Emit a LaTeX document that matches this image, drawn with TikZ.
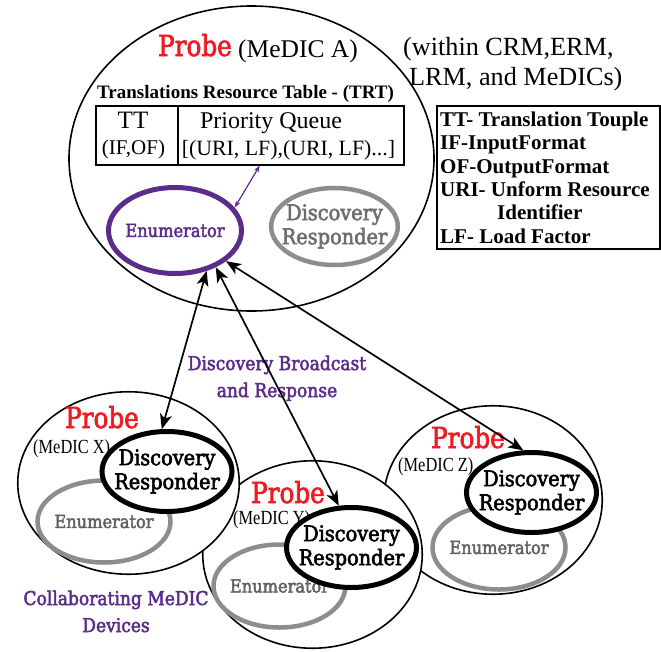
\documentclass[tikz,border=0pt]{standalone}
\usepackage{fontspec}
\setmainfont{Liberation Serif}
\newfontfamily\slab[FakeStretch=0.9, FakeBold=2.6]{DejaVu Serif}
\newfontfamily\probeface[FakeStretch=0.85, FakeBold=2.2]{DejaVu Serif}
\newfontfamily\tagface[FakeStretch=0.82]{Liberation Serif}
\usetikzlibrary{shapes.geometric,arrows.meta}

\definecolor{probered}{HTML}{ED1C24}
\definecolor{medpurple}{HTML}{5B2C8A}
\definecolor{ringgray}{HTML}{8C8D90}
\definecolor{labelgray}{HTML}{5F6062}
\definecolor{softgray}{HTML}{6D6E71}

\tikzset{
  device/.style={ellipse, draw, line width=1.6pt, fill=white, inner sep=0pt},
  responder/.style={ellipse, draw, line width=5pt, fill=white, inner xsep=-8pt, inner ysep=0pt,
    minimum width=130pt, minimum height=80pt, align=center,
    font=\slab\fontsize{21.5}{24}\selectfont},
  enumring/.style={ellipse, draw=ringgray, line width=4.5pt, inner xsep=-8pt, inner ysep=0pt,
    text=labelgray, font=\slab\fontsize{18}{20}\selectfont},
  probetag/.style={anchor=base west, inner sep=0pt, text=probered,
    font=\probeface\fontsize{29}{30}\selectfont},
  medictag/.style={anchor=base west, inner sep=0pt, font=\tagface\fontsize{20}{22}\selectfont},
  plain/.style={anchor=base west, inner sep=0pt},
  cell/.style={draw, line width=1.5pt, inner sep=0pt, anchor=north west},
  legendline/.style={anchor=base west, inner sep=0pt, font=\bfseries\fontsize{21}{22}\selectfont},
  purplelabel/.style={anchor=base, inner sep=0pt, text=medpurple, font=\slab\fontsize{19}{21}\selectfont},
  twoway/.style={{Stealth[length=15pt,width=12pt,inset=4pt]}-{Stealth[length=15pt,width=12pt,inset=4pt]},
    line width=1.7pt},
  smalltwoway/.style={{Stealth[length=7pt,width=5pt]}-{Stealth[length=7pt,width=5pt]},
    line width=1.2pt, medpurple}
}

\begin{document}
\begin{tikzpicture}[x=1pt,y=-1pt]
\useasboundingbox (0,0) rectangle (661,651);

% ---- probe of MeDIC A ----
\node[device, minimum width=365pt, minimum height=305pt] (devA) at (251.5,158.5) {};
\node[probetag] (probeA) at (158,56) {Probe};
\node[plain, font=\fontsize{25.5}{27}\selectfont] (medicA) at (238,57) {(MeDIC A)};

\node[plain, font=\bfseries\fontsize{19}{21}\selectfont] (trt) at (97,98)
  {Translations Resource Table - (TRT)};
\node[cell, minimum width=82pt, minimum height=59pt] (tt) at (95,105) {};
\node[cell, minimum width=226pt, minimum height=59pt] (pq) at (177,105) {};
\node[anchor=base, inner sep=0pt, font=\fontsize{25}{27}\selectfont] (ttname) at (133,128) {TT};
\node[anchor=base, inner sep=0pt, font=\fontsize{21}{23}\selectfont] (ttpair) at (133.5,154) {(IF,OF)};
\node[anchor=base, inner sep=0pt, font=\fontsize{24}{26}\selectfont] (pqname) at (271,128) {Priority Queue};
\node[anchor=base, inner sep=0pt, font=\fontsize{21.8}{23}\selectfont] (pqlist) at (288.5,155)
  {[(URI, LF),(URI, LF)...]};

\node[ellipse, draw=medpurple, line width=5pt, inner xsep=-8pt, inner ysep=0pt,
  minimum width=133pt, minimum height=86pt, text=medpurple,
  font=\slab\fontsize{18}{20}\selectfont] (enumA) at (175,230.5) {Enumerator};
\node[ellipse, draw=ringgray, line width=4.5pt, inner xsep=-8pt, inner ysep=0pt,
  minimum width=124pt, minimum height=77pt, align=center, text=softgray,
  font=\slab\fontsize{21.5}{24}\selectfont] (respA) at (334.5,226.5) {Discovery\\Responder};

\coordinate (pqfoot) at ([xshift=-31pt]pq.south);
\draw[smalltwoway] (enumA.21) -- (pqfoot);

% ---- scope note and legend ----
\node[plain, font=\fontsize{26.2}{28}\selectfont] (scope1) at (403,55) {(within CRM,ERM,};
\node[plain, font=\fontsize{26.2}{28}\selectfont] (scope2) at (409,85) {LRM, and MeDICs)};

\node[draw, line width=1.5pt, inner sep=0pt, minimum width=223pt, minimum height=143pt,
  anchor=north west] (legend) at (436,105) {};
\node[legendline] (lg1) at (440,126) {TT- Translation Touple};
\node[legendline] (lg2) at (440,149.5) {IF-InputFormat};
\node[legendline] (lg3) at (440,173) {OF-OutputFormat};
\node[legendline] (lg4) at (440,196) {URI- Unform Resource};
\node[legendline] (lg5) at (497,219.5) {Identifier};
\node[legendline] (lg6) at (440,243) {LF- Load Factor};

% ---- collaborating devices (back to front) ----
\node[device, minimum width=218.5pt, minimum height=188.5pt] (devZ) at (493,500) {};
\node[probetag] (probeZ) at (431,448) {Probe};
\node[medictag] (medicZ) at (398,471) {(MeDIC Z)};
\node[enumring, minimum width=133pt, minimum height=84pt] (enumZ) at (499,547.5) {Enumerator};
\node[responder] (respZ) at (531.5,492.5) {Discovery\\Responder};

\node[device, minimum width=219.5pt, minimum height=187.5pt] (devY) at (312.5,554.5) {};
\node[probetag] (probeY) at (251,503) {Probe};
\node[medictag] (medicY) at (233,524) {(MeDIC Y)};
\node[enumring, minimum width=132pt, minimum height=83pt] (enumY) at (279.5,586) {Enumerator};
\node[responder] (respY) at (351.5,547.5) {Discovery\\Responder};

\node[device, minimum width=221.5pt, minimum height=182.5pt] (devX) at (128.5,483) {};
\node[probetag] (probeX) at (65,428) {Probe};
\node[medictag] (medicX) at (33,453) {(MeDIC X)};
\node[enumring, minimum width=133pt, minimum height=82pt] (enumX) at (104,521.5) {Enumerator};
\node[responder] (respX) at (167,471.5) {Discovery\\Responder};

% ---- captions ----
\node[purplelabel] (bcast1) at (277,370) {Discovery Broadcast};
\node[purplelabel] (bcast2) at (277,397) {and Response};
\node[purplelabel] (collab1) at (116,605) {Collaborating MeDIC};
\node[purplelabel] (collab2) at (116,632) {Devices};

% ---- discovery broadcast / response links ----
\draw[twoway] (enumA.-52) -- (respX.97);
\draw[twoway] (enumA.-42) -- (respY.107);
\draw[twoway] (enumA.-31) -- (respZ.101);
\end{tikzpicture}
\end{document}
